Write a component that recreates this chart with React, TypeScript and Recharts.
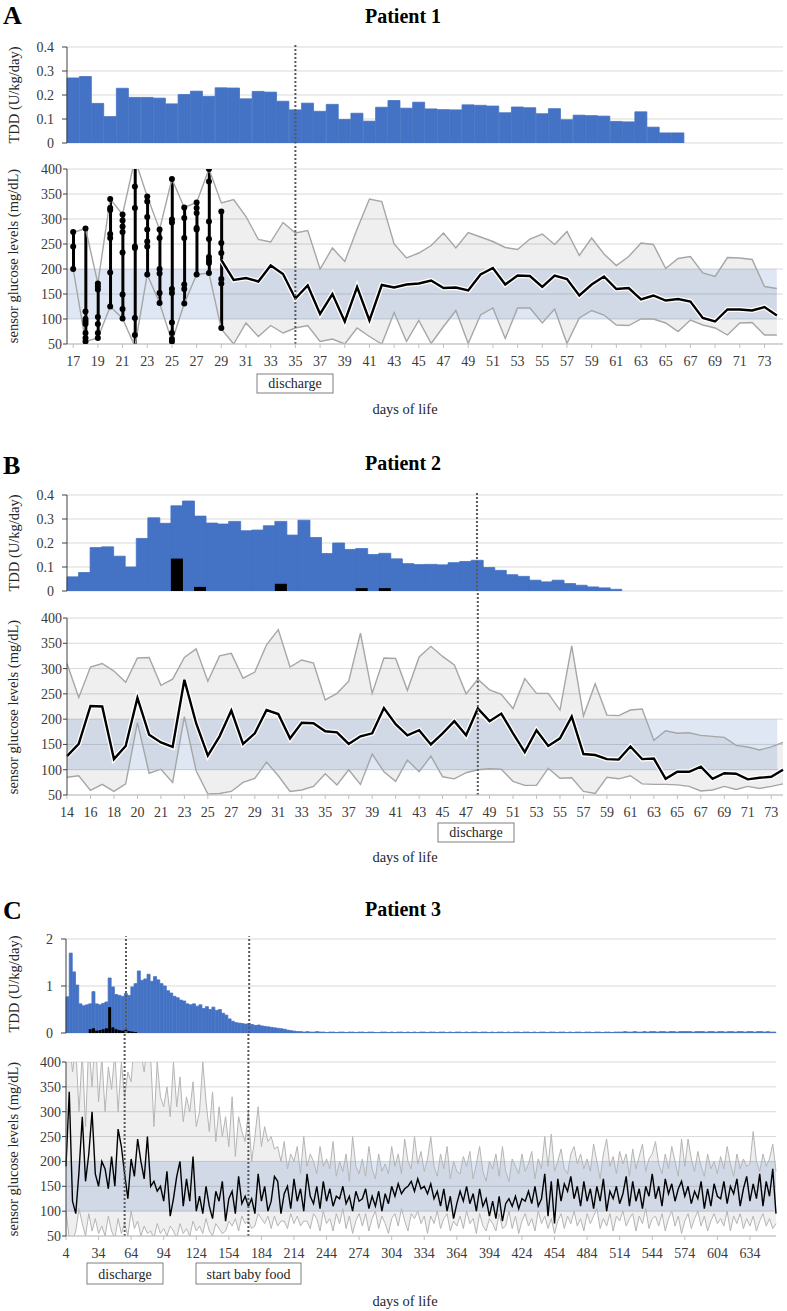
import React from "react"
import {
  ComposedChart,
  Bar,
  Line,
  Area,
  XAxis,
  YAxis,
  CartesianGrid,
  ReferenceArea,
  ReferenceLine,
} from "recharts"

// ---------- Patient 1 ----------
const daysA = [
  17, 18, 19, 20, 21, 22, 23, 24, 25, 26, 27, 28, 29, 30, 31, 32, 33, 34, 35, 36, 37, 38, 39, 40, 41, 42, 43, 44, 45,
  46, 47, 48, 49, 50, 51, 52, 53, 54, 55, 56, 57, 58, 59, 60, 61, 62, 63, 64, 65, 66, 67, 68, 69, 70, 71, 72, 73, 74,
]
const tddA = [
  0.271, 0.277, 0.165, 0.11, 0.228, 0.19, 0.19, 0.187, 0.163, 0.202, 0.216, 0.194, 0.23, 0.229, 0.184, 0.215, 0.212,
  0.174, 0.138, 0.166, 0.132, 0.161, 0.098, 0.124, 0.091, 0.149, 0.177, 0.145, 0.17, 0.142, 0.139, 0.138, 0.159, 0.157,
  0.154, 0.126, 0.15, 0.147, 0.122, 0.143, 0.097, 0.116, 0.114, 0.112, 0.09, 0.088, 0.13, 0.066, 0.042, 0.042,
  null, null, null, null, null, null, null, null,
]
const meanA = [
  null, null, null, null, null, null, null, null, null, null, null, null,
  218, 178, 182, 175, 207, 190, 141, 167, 110, 150, 95, 164, 97, 168, 163, 169, 171, 177, 162, 163, 157, 189, 202, 169,
  187, 186, 164, 187, 180, 147, 169, 185, 160, 162, 139, 147, 137, 140, 135, 102, 95, 119, 119, 117, 124, 107,
]
const maxA = [
  273, 281, 171, 340, 309, 420, 345, 279, 380, 323, 333, 400,
  332, 339, 305, 259, 254, 293, 272, 277, 200, 242, 215, 280, 340, 335, 250, 222, 232, 247, 272, 242, 273, 264, 255, 243,
  239, 260, 270, 249, 275, 227, 262, 230, 207, 225, 252, 249, 201, 221, 225, 192, 185, 223, 222, 219, 165, 161,
]
const minA = [
  200, 55, 62, 125, 101, 45, 189, 132, 55, 131, 189, 192,
  80, 50, 92, 65, 87, 72, 82, 87, 55, 60, 50, 82, 65, 50, 113, 55, 97, 51, 85, 117, 51, 108, 122, 61,
  122, 122, 92, 120, 51, 102, 117, 108, 88, 87, 100, 100, 92, 75, 98, 88, 82, 68, 92, 93, 68, 68,
]
// single readings, days 17-29
const readingsA = [
  [274, 245, 200],
  [281, 115, 100, 95, 90, 72, 62, 55],
  [171, 165, 159, 104, 90, 72, 62],
  [340, 322, 318, 270, 262, 193, 125],
  [309, 297, 285, 274, 233, 149, 120, 101],
  [415, 365, 322, 245, 242, 102, 68, 45],
  [345, 335, 304, 279, 255, 245, 189],
  [279, 262, 200, 191, 152, 132],
  [380, 299, 293, 160, 152, 93, 72, 60, 55],
  [323, 302, 262, 169, 160, 131],
  [333, 322, 312, 282, 279, 189],
  [400, 375, 295, 260, 224, 217, 212, 192],
  [315, 252, 232, 180, 171, 82],
]
const dischargeA = 35

// ---------- Patient 2 ----------
const daysB = [
  14, 15, 16, 17, 18, 19, 20, 20, 21, 22, 23, 24, 25, 26, 27, 28, 29, 30, 31, 32, 33, 34, 35, 36, 37, 38, 39, 40, 41, 42,
  43, 44, 45, 46, 47, 48, 49, 50, 51, 52, 53, 54, 55, 56, 57, 58, 59, 60, 61, 62, 63, 64, 65, 66, 67, 68, 69, 70, 71, 72,
  73, 74,
]
const tddB = [
  0.059, 0.077, 0.181, 0.184, 0.145, 0.1, 0.219, 0.305, 0.282, 0.355, 0.375, 0.312, 0.283, 0.279, 0.29, 0.251, 0.254,
  0.272, 0.29, 0.233, 0.295, 0.223, 0.156, 0.2, 0.173, 0.177, 0.152, 0.157, 0.134, 0.114, 0.11, 0.111, 0.109, 0.118,
  0.123, 0.128, 0.098, 0.086, 0.068, 0.061, 0.045, 0.038, 0.045, 0.031, 0.024, 0.017, 0.013, 0.007,
]
const blackB = [
  null, null, null, null, null, null, null, null, null, 0.135, null, 0.017, null, null, null, null, null, null, 0.03,
  null, null, null, null, null, null, 0.012, null, 0.012,
]
const meanB = [
  127, 151, 226, 225, 121, 147, 242, 169, 154, 145, 278, 192, 128, 166, 217, 151, 172, 218, 210, 162, 193, 192, 176, 174,
  151, 166, 172, 222, 190, 168, 178, 150, 172, 196, 168, 221, 196, 211, 172, 135, 178, 147, 162, 205, 131, 129, 121, 120,
  146, 121, 122, 82, 96, 96, 106, 82, 93, 92, 81, 84, 86, 100,
]
const maxB = [
  310, 243, 303, 310, 295, 273, 321, 322, 267, 279, 322, 339, 275, 325, 330, 281, 293, 347, 377, 303, 317, 311, 238, 251,
  275, 370, 251, 321, 320, 257, 323, 344, 324, 307, 250, 279, 258, 249, 221, 280, 251, 251, 218, 345, 206, 270, 208, 207,
  218, 220, 158, 177, 172, 173, 168, 166, 164, 148, 145, 139, 145, 154,
]
const minB = [
  85, 88, 59, 71, 57, 72, 193, 93, 101, 75, 205, 98, 52, 53, 57, 75, 83, 115, 88, 57, 60, 67, 92, 70, 100, 71, 131, 96,
  77, 119, 96, 127, 86, 82, 94, 100, 102, 101, 77, 69, 69, 103, 83, 84, 57, 53, 85, 82, 88, 72, 71, 71, 70, 67, 58, 60,
  67, 61, 67, 63, 67, 72,
]
const dischargeB = 48

// ---------- Patient 3 (every third day from day 4) ----------
const firstDayC = 4
const stepC = 3
const tddC = [
  0.77, 1.7, 1.3, 1.02, 0.62, 0.58, 0.6, 0.62, 0.88, 0.62, 0.6,
  0.63, 0.66, 1.17, 0.98, 0.82, 0.8, 0.78, 0.84, 0.8, 0.98,
  1.05, 1.32, 1.12, 1.15, 1.25, 1.1, 1.2, 1.13, 1.05, 1.0,
  0.9, 0.85, 0.78, 0.75, 0.7, 0.68, 0.62, 0.6, 0.62, 0.57,
  0.6, 0.52, 0.56, 0.5, 0.55, 0.48, 0.5, 0.42, 0.38, 0.3,
  0.25, 0.22, 0.21, 0.2, 0.19, 0.2, 0.18, 0.16, 0.17, 0.15,
  0.14, 0.13, 0.12, 0.11, 0.1, 0.09, 0.08, 0.06, 0.05, 0.04,
  0.03, 0.03, 0.02, 0.03, 0.02, 0.02, 0.03, 0.02, 0.02, 0.01,
  0.02, 0.02, 0.01, 0.02, 0.02, 0.01, 0.02, 0.02, 0.01, 0.02,
  0.02, 0.01, 0.02, 0.02, 0.01, 0.01, 0.02, 0.02, 0.01, 0.02,
  0.01, 0.02, 0.02, 0.01, 0.02, 0.01, 0.02, 0.01, 0.02, 0.02,
  0.01, 0.02, 0.02, 0.01, 0.02, 0.02, 0.01, 0.02, 0.01, 0.02,
  0.02, 0.01, 0.02, 0.01, 0.02, 0.02, 0.01, 0.02, 0.02, 0.01,
  0.02, 0.01, 0.02, 0.02, 0.01, 0.02, 0.01, 0.02, 0.02, 0.01,
  0.02, 0.02, 0.01, 0.02, 0.01, 0.02, 0.02, 0.01, 0.02, 0.02,
  0.01, 0.02, 0.02, 0.01, 0.02, 0.01, 0.02, 0.02, 0.01, 0.02,
  0.02, 0.01, 0.02, 0.02, 0.01, 0.02, 0.02, 0.01, 0.02, 0.02,
  0.02, 0.03, 0.02, 0.02, 0.03, 0.02, 0.02, 0.03, 0.02, 0.03,
  0.03, 0.02, 0.03, 0.03, 0.02, 0.03, 0.03, 0.02, 0.03, 0.03,
  0.03, 0.03, 0.02, 0.03, 0.03, 0.03, 0.02, 0.03, 0.03, 0.02,
  0.03, 0.03, 0.02, 0.03, 0.03, 0.02, 0.03, 0.03, 0.02, 0.03,
  0.03, 0.02, 0.03, 0.03, 0.02, 0.03, 0.02, 0.02,
]
const blackC = [
  null, null, null, null, null, null, null, 0.08, 0.1, 0.05, 0.06, 0.08, 0.1, 0.55, 0.12, 0.08, 0.06, 0.05, 0.07, 0.04,
  0.03, 0.02,
]
const meanC = [
  190, 340, 120, 95, 180, 290, 160, 215, 300, 175, 150,
  200, 185, 145, 210, 150, 265, 230, 175, 125, 205,
  170, 245, 200, 165, 250, 150, 160, 140, 150, 120,
  180, 90, 125, 170, 200, 110, 165, 120, 210, 100,
  130, 95, 150, 110, 85, 140, 120, 160, 80, 125,
  140, 95, 170, 115, 130, 110, 125, 95, 175, 120,
  150, 100, 120, 170, 160, 95, 135, 150, 105, 165,
  120, 145, 100, 175, 130, 115, 150, 105, 160, 120,
  145, 110, 130, 125, 150, 115, 130, 100, 140, 120,
  125, 145, 105, 130, 110, 140, 100, 135, 115, 150,
  130, 155, 135, 145, 150, 160, 140, 165, 145, 150,
  135, 155, 125, 140, 110, 145, 100, 130, 85, 115,
  140, 120, 150, 115, 135, 100, 145, 110, 125, 90,
  120, 85, 130, 80, 115, 125, 110, 130, 105, 125,
  120, 140, 115, 150, 110, 125, 175, 90, 160, 75,
  165, 120, 155, 140, 170, 125, 150, 110, 160, 120,
  145, 105, 150, 120, 165, 100, 140, 125, 150, 115,
  135, 170, 110, 160, 120, 145, 105, 150, 130, 175,
  125, 150, 110, 165, 135, 155, 120, 145, 160, 130,
  150, 115, 140, 125, 160, 105, 145, 110, 155, 130,
  125, 160, 115, 150, 135, 165, 110, 145, 170, 120,
  155, 125, 175, 110, 160, 130, 185, 95,
]
const maxC = [
  420, 450, 380, 430, 300, 420, 270, 440, 350, 460, 320,
  410, 300, 390, 345, 420, 300, 400, 330, 380, 360,
  450, 400, 420, 380, 440, 410, 270, 400, 330, 310,
  350, 290, 400, 310, 370, 280, 330, 300, 360, 270,
  300, 400, 320, 260, 340, 240, 310, 250, 290, 230,
  330, 210, 290, 260, 240, 300, 200, 250, 310, 230,
  270, 240, 250, 225, 230, 200, 240, 185, 215, 200,
  230, 175, 250, 190, 215, 200, 175, 230, 190, 205,
  185, 240, 170, 200, 180, 215, 160, 250, 190, 175,
  205, 170, 230, 185, 165, 215, 180, 195, 175, 230,
  190, 215, 175, 245, 200, 185, 250, 195, 220, 180,
  205, 250, 190, 170, 215, 185, 230, 165, 200, 180,
  175, 210, 190, 220, 165, 195, 230, 180, 160, 200,
  185, 215, 170, 230, 180, 160, 205, 190, 175, 215,
  180, 195, 220, 165, 205, 185, 250, 190, 255, 180,
  200, 225, 185, 175, 215, 230, 195, 215, 185, 205,
  180, 235, 200, 165, 215, 245, 190, 210, 175, 220,
  195, 215, 170, 225, 185, 210, 235, 180, 205, 215,
  240, 195, 175, 215, 185, 230, 200, 170, 245, 190,
  245, 205, 180, 220, 190, 170, 215, 185, 200, 175,
  210, 185, 230, 195, 170, 215, 185, 205, 190, 195,
  260, 200, 180, 215, 190, 205, 235, 180,
]
const minC = [
  100, 45, 40, 60, 105, 75, 50, 95, 60, 85, 55,
  70, 50, 90, 60, 45, 85, 55, 75, 50, 100,
  65, 80, 50, 70, 55, 60, 45, 75, 55, 65,
  50, 70, 60, 45, 75, 55, 65, 50, 80, 60,
  70, 55, 85, 60, 50, 75, 65, 55, 60, 80,
  70, 85, 60, 90, 75, 80, 65, 70, 95, 85,
  75, 90, 65, 90, 70, 80, 80, 65, 95, 75,
  90, 70, 80, 80, 65, 95, 85, 60, 100, 75,
  85, 60, 95, 75, 105, 65, 90, 55, 80, 95,
  70, 95, 60, 85, 100, 65, 90, 75, 55, 85,
  95, 70, 105, 80, 60, 95, 85, 100, 75, 90,
  55, 90, 75, 100, 65, 85, 95, 60, 80, 70,
  90, 65, 100, 75, 85, 55, 95, 70, 60, 85,
  75, 60, 95, 65, 70, 100, 65, 90, 55, 80,
  95, 70, 85, 60, 100, 75, 90, 65, 85, 55,
  80, 95, 65, 90, 75, 100, 70, 85, 60, 95,
  75, 90, 105, 65, 85, 70, 95, 60, 90, 80,
  100, 70, 85, 95, 60, 90, 75, 105, 65, 85,
  90, 70, 95, 60, 85, 100, 70, 90, 55, 80,
  95, 65, 85, 100, 70, 90, 60, 80, 95, 75,
  85, 70, 100, 60, 90, 75, 95, 65, 85, 70,
  90, 60, 80, 95, 70, 85, 65, 75,
]
const dischargeC = 58
const babyFoodC = 172
const daysC = meanC.map((_, k) => firstDayC + stepC * k)

// ---------- shared look ----------
const W = 787
const FONT = '"Liberation Serif", "Times New Roman", Times, serif'
const BLUE = "#4472c4"
const GRID = "#d9d9d9"
const AXIS = "#404040"
const INK = "#3a3a3a"
const DOTTED = "#595959"
const glucoseTicks = [50, 100, 150, 200, 250, 300, 350, 400]
const tickStyle = { fontSize: 14, fill: INK, fontFamily: FONT }

type Row = { [key: string]: any }

const rowsA: Row[] = daysA.map((d, i) => {
  const r = readingsA[i] || []
  const row: Row = {
    i,
    tdd: tddA[i],
    mean: meanA[i],
    max: maxA[i],
    min: minA[i],
    range: meanA[i] == null ? null : [minA[i], maxA[i]],
    span: r.length ? [Math.min(...r), Math.max(...r)] : null,
  }
  r.forEach((v, j) => {
    row["r" + j] = v
  })
  return row
})

const rowsB: Row[] = daysB.map((d, i) => ({
  i,
  tdd: tddB[i] ?? null,
  black: blackB[i] ?? null,
  mean: meanB[i],
  max: maxB[i],
  min: minB[i],
  range: [minB[i], maxB[i]],
}))

const rowsC: Row[] = daysC.map((d, i) => ({
  i,
  tdd: tddC[i] ?? null,
  black: blackC[i] ?? null,
  mean: meanC[i],
  max: maxC[i],
  min: minC[i],
  range: [minC[i], maxC[i]],
}))

function TddChart({ rows, top, plotTop, plotBottom, left, right, yMax, yTicks, marks, markTop }) {
  return (
    <div style={{ position: "absolute", left: 0, top }}>
      <ComposedChart
        width={W}
        height={plotBottom - top + 10}
        data={rows}
        margin={{ top: plotTop - top, right: W - right, bottom: 10, left: 0 }}
        barCategoryGap={0}
        barGap={0}
      >
        <CartesianGrid vertical={false} stroke={GRID} />
        <XAxis dataKey="i" type="category" hide />
        <XAxis dataKey="i" type="category" xAxisId="k" hide />
        <YAxis
          width={left}
          domain={[0, yMax]}
          ticks={yTicks}
          interval={0}
          allowDataOverflow
          tickFormatter={(v) => String(v)}
          tickSize={5}
          tickMargin={8}
          axisLine={{ stroke: AXIS }}
          tickLine={{ stroke: AXIS }}
          tick={tickStyle}
        />
        <Bar dataKey="tdd" fill={BLUE} stroke={BLUE} strokeWidth={0.8} isAnimationActive={false} />
        <Bar dataKey="black" xAxisId="k" fill="#000" isAnimationActive={false} />
        {marks.map((m) => (
          <ReferenceLine
            key={m}
            segment={[
              { x: m, y: 0 },
              { x: m, y: markTop },
            ]}
            ifOverflow="visible"
            stroke={DOTTED}
            strokeWidth={2}
            strokeDasharray="2 2"
          />
        ))}
      </ComposedChart>
    </div>
  )
}

function GlucoseChart({ rows, labels, top, plotTop, plotBottom, left, right, marks, markTop, interval, bandEnd, thin, dots }) {
  const n = rows.length
  return (
    <div style={{ position: "absolute", left: 0, top }}>
      <ComposedChart
        width={W}
        height={plotBottom - top + 34}
        data={rows}
        margin={{ top: plotTop - top, right: W - right, bottom: 0, left: 0 }}
      >
        <CartesianGrid vertical={false} stroke={GRID} />
        <XAxis
          dataKey="i"
          type="category"
          interval={interval}
          tickFormatter={(i) => String(labels[i])}
          height={34}
          tickSize={4}
          tickMargin={8}
          axisLine={{ stroke: "#bfbfbf" }}
          tickLine={{ stroke: "#bfbfbf" }}
          tick={tickStyle}
        />
        <XAxis xAxisId="n" dataKey="i" type="number" domain={[-0.5, n - 0.5]} allowDataOverflow hide />
        <YAxis
          width={left}
          domain={[50, 400]}
          ticks={glucoseTicks}
          interval={0}
          allowDataOverflow
          tickSize={4}
          tickMargin={1}
          axisLine={{ stroke: AXIS }}
          tickLine={{ stroke: AXIS }}
          tick={tickStyle}
        />
        <Area
          type="linear"
          dataKey="range"
          stroke="none"
          fill="#000"
          fillOpacity={0.063}
          isAnimationActive={false}
          activeDot={false}
        />
        <ReferenceArea xAxisId="n" x1={-0.5} x2={bandEnd} y1={100} y2={200} fill={BLUE} fillOpacity={0.17} stroke="none" />
        <Line
          type="linear"
          dataKey="max"
          stroke={thin ? "#b5b5b5" : "#a6a6a6"}
          strokeWidth={thin ? 1 : 1.4}
          dot={false}
          activeDot={false}
          isAnimationActive={false}
        />
        <Line
          type="linear"
          dataKey="min"
          stroke={thin ? "#b5b5b5" : "#a6a6a6"}
          strokeWidth={thin ? 1 : 1.4}
          dot={false}
          activeDot={false}
          isAnimationActive={false}
        />
        {dots && <Bar dataKey="span" barSize={3} fill="#000" isAnimationActive={false} />}
        {dots &&
          Array.from({ length: 9 }, (_, j) => (
            <Line
              key={"r" + j}
              dataKey={"r" + j}
              stroke="none"
              dot={{ r: 3, fill: "#000", stroke: "none" }}
              activeDot={false}
              isAnimationActive={false}
            />
          ))}
        {!thin && (
          <Line
            type="linear"
            dataKey="mean"
            stroke="#fff"
            strokeWidth={5}
            dot={false}
            activeDot={false}
            isAnimationActive={false}
          />
        )}
        <Line
          type="linear"
          dataKey="mean"
          stroke="#000"
          strokeWidth={thin ? 1.4 : 2.4}
          dot={false}
          activeDot={false}
          isAnimationActive={false}
        />
        {marks.map((m) => (
          <ReferenceLine
            key={m}
            segment={[
              { x: m, y: 50 },
              { x: m, y: markTop },
            ]}
            ifOverflow="visible"
            stroke={DOTTED}
            strokeWidth={2}
            strokeDasharray="2 2"
          />
        ))}
      </ComposedChart>
    </div>
  )
}

const VLabel = ({ x, y, text }) => (
  <text transform={`translate(${x},${y}) rotate(-90)`} textAnchor="middle" fontSize={14.5} fill="#262626">
    {text}
  </text>
)

const Box = ({ x, y, w, h, text }) => (
  <g>
    <rect x={x} y={y} width={w} height={h} fill="#fff" stroke="#7f7f7f" strokeWidth={1} />
    <text x={x + w / 2} y={y + h - 5} textAnchor="middle" fontSize={14} fill="#262626">
      {text}
    </text>
  </g>
)

function Labels() {
  return (
    <svg width={W} height={1311} style={{ position: "absolute", left: 0, top: 0, pointerEvents: "none" }}>
      {/* Patient 1 */}
      <text x={3} y={24} fontSize={26} fontWeight="bold">A</text>
      <text x={403} y={23} fontSize={20} fontWeight="bold" textAnchor="middle">Patient 1</text>
      <VLabel x={19} y={95} text="TDD (U/kg/day)" />
      <VLabel x={18} y={256} text="sensor glucose levels (mg/dL)" />
      <Box x={257} y={374} w={76} h={19} text="discharge" />
      <text x={405} y={414} fontSize={14.5} textAnchor="middle" fill="#262626">days of life</text>

      {/* Patient 2 */}
      <text x={3} y={474} fontSize={26} fontWeight="bold">B</text>
      <text x={403} y={470} fontSize={20} fontWeight="bold" textAnchor="middle">Patient 2</text>
      <VLabel x={19} y={543} text="TDD (U/kg/day)" />
      <VLabel x={18} y={707} text="sensor glucose levels (mg/dL)" />
      <Box x={438} y={823} w={76} h={19} text="discharge" />
      <text x={405} y={862} fontSize={14.5} textAnchor="middle" fill="#262626">days of life</text>

      {/* Patient 3 */}
      <text x={3} y={919} fontSize={26} fontWeight="bold">C</text>
      <text x={403} y={916} fontSize={20} fontWeight="bold" textAnchor="middle">Patient 3</text>
      <VLabel x={19} y={984} text="TDD (U/kg/day)" />
      <VLabel x={18} y={1149} text="sensor glucose levels (mg/dL)" />
      <Box x={87} y={1263} w={76} h={21} text="discharge" />
      <Box x={196} y={1263} w={105} h={21} text="start baby food" />
      <text x={405} y={1306} fontSize={14.5} textAnchor="middle" fill="#262626">days of life</text>
    </svg>
  )
}

export default function App() {
  const markA = [daysA.indexOf(dischargeA)]
  const markB = [daysB.indexOf(dischargeB)]
  const markC = [daysC.indexOf(dischargeC), daysC.indexOf(babyFoodC)]

  return (
    <div
      className="figure"
      style={{
        position: "absolute",
        left: 0,
        top: 0,
        width: W,
        height: 1311,
        background: "#fff",
        fontFamily: FONT,
        overflow: "hidden",
      }}
    >
      <style>{`.figure text { font-family: "Liberation Serif", "Times New Roman", Times, serif !important; }`}</style>
      <TddChart rows={rowsA} top={30} plotTop={47} plotBottom={143} left={67} right={783}
        yMax={0.4} yTicks={[0, 0.1, 0.2, 0.3, 0.4]} marks={markA} markTop={0.417} />
      <GlucoseChart rows={rowsA} labels={daysA} top={143} plotTop={169} plotBottom={344} left={67} right={783}
        marks={markA} markTop={451} interval={1} bandEnd={rowsA.length - 1} thin={false} dots />

      <TddChart rows={rowsB} top={480} plotTop={495} plotBottom={591} left={67} right={783}
        yMax={0.4} yTicks={[0, 0.1, 0.2, 0.3, 0.4]} marks={markB} markTop={0.408} />
      <GlucoseChart rows={rowsB} labels={daysB} top={591} plotTop={618} plotBottom={795} left={67} right={783}
        marks={markB} markTop={452} interval={1} bandEnd={rowsB.length - 1} thin={false} dots={false} />

      <TddChart rows={rowsC} top={925} plotTop={939} plotBottom={1033} left={66} right={776}
        yMax={2} yTicks={[0, 1, 2]} marks={markC} markTop={2.06} />
      <GlucoseChart rows={rowsC} labels={daysC} top={1033} plotTop={1062} plotBottom={1236} left={66} right={776}
        marks={markC} markTop={457} interval={9} bandEnd={rowsC.length - 0.5} thin dots={false} />

      <Labels />
    </div>
  )
}
